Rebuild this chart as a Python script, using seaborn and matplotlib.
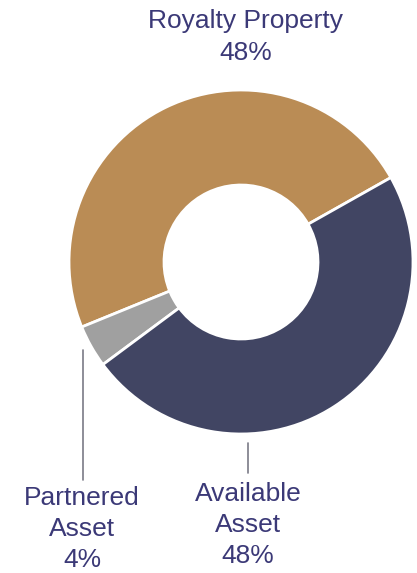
import matplotlib
matplotlib.use("Agg")
import matplotlib.pyplot as plt
import seaborn as sns

# Data
categories = ["Royalty Property", "Partnered Asset", "Available Asset"]
label_text = ["Royalty Property", "Partnered\nAsset", "Available\nAsset"]
shares = [48, 4, 48]
colors = ["#BA8C55", "#A0A0A0", "#414563"]

sns.set_theme(style="white")
plt.rcParams["font.family"] = ["Liberation Sans", "DejaVu Sans"]

W, H = 417, 573
fig = plt.figure(figsize=(W / 100, H / 100), dpi=100)
ax = fig.add_axes([0, 0, 1, 1])

palette = sns.color_palette(colors)
ax.pie(shares, colors=palette, startangle=29.4, counterclock=True,
       center=(241, H - 262), radius=172, frame=True,
       wedgeprops=dict(width=95, edgecolor="white", linewidth=2))

ax.set_xlim(0, W)
ax.set_ylim(0, H)
ax.set_aspect("equal")
ax.axis("off")

txt_color = "#3B3977"
fs = 19
ls = 1.38
labels = [f"{t}\n{v}%" for t, v in zip(label_text, shares)]

# Royalty Property (top)
ax.text(246, H - 37, labels[0], ha="center", va="center", fontsize=fs,
        color=txt_color, linespacing=ls)
# Partnered Asset (bottom left)
ax.text(82, H - 529, labels[1], ha="center", va="center", fontsize=fs,
        color=txt_color, linespacing=ls)
# Available Asset (bottom)
ax.text(248, H - 525, labels[2], ha="center", va="center", fontsize=fs,
        color=txt_color, linespacing=ls)

# leader lines
line_color = "#7A7A86"
ax.plot([83, 83], [H - 350, H - 480], color=line_color, lw=1.2)
ax.plot([248, 248], [H - 443, H - 473], color=line_color, lw=1.2)

fig.savefig("out.png", dpi=100)
